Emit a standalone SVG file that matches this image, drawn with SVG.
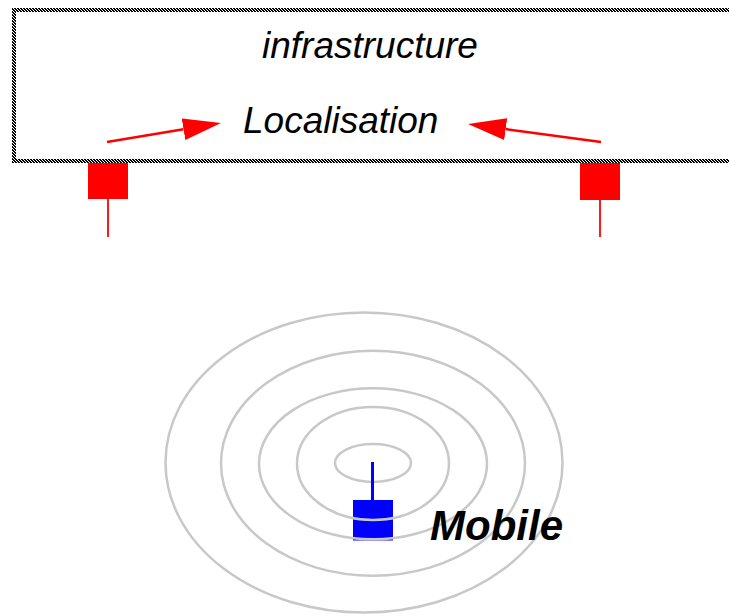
<svg xmlns="http://www.w3.org/2000/svg" width="729" height="616" viewBox="0 0 729 616">
  <style>
    .lbl { font-family: "Liberation Sans", Arial, sans-serif; font-style: italic; fill: #000; }
    .ring { fill: none; stroke: #c8c8c8; stroke-width: 2.5; }
    .arrow { stroke: #ff0000; stroke-width: 2.5; fill: none; }
    .ant { stroke: #ff0000; stroke-width: 1.8; }
  </style>
  <defs>
    <pattern id="hatch" width="3" height="3" patternUnits="userSpaceOnUse">
      <rect width="3" height="3" fill="#fff"/>
      <path d="M0,0h2v1h-2z M1,1h2v1h-2z M2,2h1v1h-1z M0,2h1v1h-1z" fill="#000" shape-rendering="crispEdges"/>
    </pattern>
    <marker id="head" markerUnits="userSpaceOnUse" markerWidth="40" markerHeight="24" refX="0" refY="11" orient="auto">
      <path d="M0,0 L38,11 L0,22 z" fill="#ff0000"/>
    </marker>
  </defs>
  <rect width="729" height="616" fill="#fff"/>

  <g id="infrastructure">
    <rect x="14" y="10" width="800" height="151" fill="#fff" stroke="url(#hatch)" stroke-width="4"/>
    <text class="lbl" x="262" y="58" font-size="37">infrastructure</text>
    <text class="lbl" x="243" y="133" font-size="37">Localisation</text>
  </g>

  <g id="station-left">
    <rect x="88" y="163" width="40" height="36" fill="#ff0000"/>
    <line class="ant" x1="108" y1="199" x2="108" y2="237"/>
  </g>
  <g id="station-right">
    <rect x="580" y="163" width="40" height="37" fill="#ff0000"/>
    <line class="ant" x1="600" y1="200" x2="600" y2="237"/>
  </g>

  <g id="connectors">
    <line class="arrow" x1="107" y1="142" x2="183.5" y2="129.2" marker-end="url(#head)"/>
    <line class="arrow" x1="601" y1="142" x2="505.7" y2="129.1" marker-end="url(#head)"/>
  </g>

  <g id="mobile">
    <rect x="353" y="500" width="40" height="40.5" fill="#0000ff"/>
    <g id="waves">
      <ellipse class="ring" cx="373" cy="463" rx="38" ry="19"/>
      <ellipse class="ring" cx="373" cy="463.5" rx="76" ry="56.5"/>
      <ellipse class="ring" cx="373" cy="463.8" rx="114" ry="75.5"/>
      <ellipse class="ring" cx="373" cy="463.3" rx="152" ry="112.5"/>
      <ellipse class="ring" cx="364" cy="462.5" rx="198.5" ry="150"/>
    </g>
    <line x1="372.5" y1="462" x2="372.5" y2="500" stroke="#0000ff" stroke-width="3"/>
    <text class="lbl" x="430" y="539.5" font-size="42" font-weight="bold">Mobile</text>
  </g>
</svg>
